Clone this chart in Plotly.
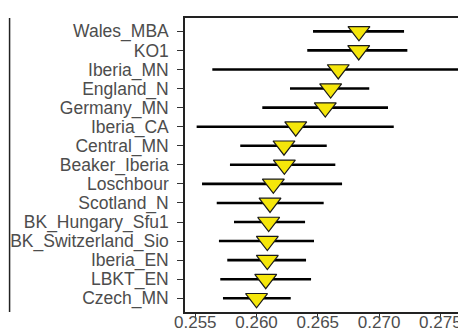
import plotly.graph_objects as go

populations = ["Wales_MBA", "KO1", "Iberia_MN", "England_N", "Germany_MN",
               "Iberia_CA", "Central_MN", "Beaker_Iberia", "Loschbour", "Scotland_N",
               "BK_Hungary_Sfu1", "BK_Switzerland_Sio", "Iberia_EN", "LBKT_EN", "Czech_MN"]
estimate = [0.26836, 0.26834, 0.26667, 0.26605, 0.26561,
            0.26320, 0.26224, 0.26227, 0.26137, 0.26110,
            0.26099, 0.26088, 0.26088, 0.26075, 0.26000]
lower = [0.26461, 0.26414, 0.25639, 0.26273, 0.26047,
         0.25511, 0.25867, 0.25783, 0.25555, 0.25675,
         0.25816, 0.25693, 0.25761, 0.25704, 0.25726]
upper = [0.27204, 0.27231, 0.27685, 0.26920, 0.27073,
         0.27120, 0.26573, 0.26643, 0.26698, 0.26548,
         0.26396, 0.26469, 0.26404, 0.26445, 0.26279]
x_ticks = [0.255, 0.260, 0.265, 0.270, 0.275]

err_plus = [u - e for u, e in zip(upper, estimate)]
err_minus = [e - l for e, l in zip(estimate, lower)]

fig = go.Figure()
fig.add_trace(go.Scatter(
    x=estimate, y=populations, mode="markers",
    marker=dict(symbol="triangle-down", size=19, color="#F5E60A",
                line=dict(color="#1a1a1a", width=1.2)),
    error_x=dict(type="data", symmetric=False, array=err_plus, arrayminus=err_minus,
                 color="black", thickness=2.6, width=0),
    showlegend=False, hoverinfo="skip",
))

yfont = dict(family="Liberation Sans, Arial, sans-serif", size=17.5, color="#4D4D4D")
xfont = dict(family="Liberation Sans, Arial, sans-serif", size=17, color="#4D4D4D")
fig.update_layout(
    width=466, height=334,
    margin=dict(l=177, r=0, t=10, b=30),
    paper_bgcolor="white", plot_bgcolor="white",
    xaxis=dict(range=[0.25416, 0.27775], tickmode="array", tickvals=x_ticks,
               ticktext=[f"{v:.3f}" for v in x_ticks],
               showgrid=False, zeroline=False, showline=True, linecolor="#222222",
               linewidth=1.5, mirror=True, ticks="outside", ticklen=5, tickwidth=1,
               tickcolor="#333333", tickfont=xfont, ticklabelstandoff=-11),
    yaxis=dict(type="category", categoryorder="array", categoryarray=populations,
               tickmode="array", tickvals=populations, ticktext=populations,
               range=[14.72, -0.7], showgrid=False, zeroline=False, showline=True,
               linecolor="#222222", linewidth=1.5, ticks="outside", ticklen=6,
               tickwidth=1, tickcolor="#333333", tickfont=yfont, ticklabelstandoff=5),
    shapes=[dict(type="line", xref="paper", yref="paper", x0=-0.607, x1=-0.607,
                 y0=0, y1=1, line=dict(color="#222222", width=1.5))],
)

fig.write_html("out.html")
